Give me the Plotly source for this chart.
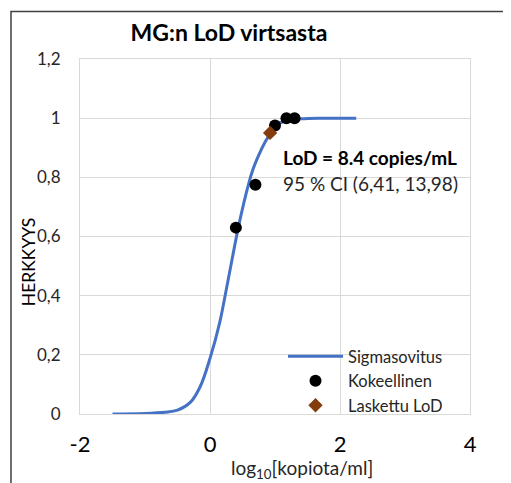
import numpy as np
import plotly.graph_objects as go

# Sigmoid fit curve
fit_x = [-1.5, -1.0, -0.7, -0.5, -0.3, -0.15, 0.0, 0.15, 0.25, 0.35, 0.45, 0.55,
         0.65, 0.75, 0.85, 0.95, 1.05, 1.2, 1.4, 1.7, 2.0, 2.25]
fit_y = [0.0, 0.002, 0.006, 0.013, 0.04, 0.093, 0.188, 0.31, 0.42, 0.535, 0.645, 0.74,
         0.82, 0.875, 0.92, 0.955, 0.98, 0.993, 0.998, 1.0, 1.0, 1.0]

# Experimental points
exp_conc = [2.5, 5, 10, 15, 20]
exp_y = [0.63, 0.775, 0.975, 1.0, 1.0]

# Calculated LoD
lod_conc = [8.4]
lod_y = [0.95]

x_tickvals = [-2, 0, 2, 4]
x_ticktext = ["-2", "0", "2", "4"]

FONT = "Lato, Carlito, Calibri, sans-serif"
TXT = "#262626"

# page has an 8px body margin; figure coordinates = screen - 8
W, H = 503, 475
L, R, T, B = 72, 41, 50.5, 69
PW, PH = W - L - R, H - T - B


def px(x):
    return (x - L) / PW


def py(y):
    return (H - B - y) / PH


fig = go.Figure()
fig.add_trace(go.Scatter(x=fit_x, y=fit_y, mode="lines", name="Sigmasovitus",
                         line=dict(color="#4472C4", width=3, shape="spline")))
fig.add_trace(go.Scatter(x=np.log10(exp_conc), y=exp_y, mode="markers", name="Kokeellinen",
                         marker=dict(color="black", size=12, symbol="circle")))
fig.add_trace(go.Scatter(x=np.log10(lod_conc), y=lod_y, mode="markers", name="Laskettu LoD",
                         marker=dict(color="#843C0C", size=11, symbol="diamond")))

fig.update_layout(
    width=W, height=H,
    margin=dict(l=L, r=R, t=T, b=B),
    paper_bgcolor="white", plot_bgcolor="white",
    separators=", ",
    font=dict(family=FONT, color=TXT),
    showlegend=True,
    legend=dict(x=px(275), y=py(331), xanchor="left", yanchor="top",
                bgcolor="rgba(0,0,0,0)", font=dict(size=16.5, color=TXT),
                itemwidth=55, tracegroupgap=0),
    title=dict(text="<b>MG:n LoD virtsasta</b>", x=px(221), xref="paper", xanchor="center",
               y=1 - 25 / H, yanchor="middle", font=dict(size=23, color="black")),
)
fig.update_xaxes(range=[-2, 4], tickvals=x_tickvals, ticktext=x_ticktext,
                 showgrid=True, gridcolor="#d9d9d9", gridwidth=1, zeroline=False,
                 showline=True, linecolor="#d9d9d9", mirror=True,
                 ticks="", ticklabelstandoff=11,
                 tickfont=dict(size=22, color="black"))
fig.update_yaxes(range=[0, 1.2], dtick=0.2, tick0=0,
                 showgrid=True, gridcolor="#d9d9d9", gridwidth=1, zeroline=False,
                 showline=True, linecolor="#d9d9d9", mirror=True,
                 ticks="", ticklabelstandoff=15,
                 tickfont=dict(size=17, color=TXT))

fig.add_annotation(text="<b>LoD = 8.4 copies/mL</b>", x=1.09, y=0.866, xref="x", yref="y",
                   xanchor="left", yanchor="middle", showarrow=False,
                   font=dict(size=19, color="black"))
fig.add_annotation(text="95 % CI (6,41, 13,98)", x=1.09, y=0.779, xref="x", yref="y",
                   xanchor="left", yanchor="middle", showarrow=False,
                   font=dict(size=19, color=TXT))
fig.add_annotation(text="HERKKYYS", x=px(20), y=py(254),
                   xref="paper", yref="paper", textangle=-90, showarrow=False,
                   xanchor="center", yanchor="middle", font=dict(size=17.5, color="black"))
fig.add_annotation(text="log<sub>10</sub>[kopiota/ml]", x=px(294), y=py(461),
                   xref="paper", yref="paper", showarrow=False,
                   xanchor="center", yanchor="middle", font=dict(size=19, color=TXT))

# Outer chart frame
fig.add_shape(type="path", xref="paper", yref="paper",
              path=f"M {px(3)},{py(H + 20)} L {px(3)},{py(3)} L {px(W + 20)},{py(3)}",
              line=dict(color="#404040", width=1.5))

fig.write_html("out.html")
